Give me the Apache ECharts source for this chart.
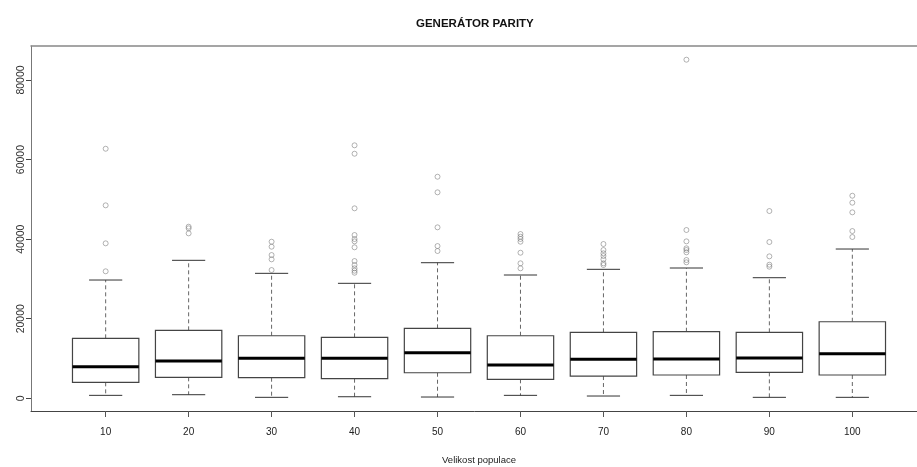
<!DOCTYPE html>
<html>
<head>
<meta charset="utf-8">
<script src="https://cdn.jsdelivr.net/npm/echarts@6/dist/echarts.min.js"></script>
<style>html,body{margin:0;padding:0;background:#fff}#c{width:917px;height:467px}</style>
</head>
<body>
<div id="c"></div>
<script>
// Categories (population size)
var categories = ['10', '20', '30', '40', '50', '60', '70', '80', '90', '100'];
// Box statistics per category
var lowWhisker = [750, 910, 250, 400, 330, 750, 580, 750, 250, 250];
var q1Values   = [4020, 5280, 5180, 4930, 6430, 4780, 5600, 5860, 6530, 5860];
var medians    = [7940, 9380, 10050, 10050, 11460, 8370, 9800, 9880, 10130, 11210];
var q3Values   = [15080, 17090, 15730, 15330, 17590, 15730, 16590, 16740, 16590, 19250];
var highWhisker= [29730, 34680, 31410, 28900, 34080, 30990, 32420, 32750, 30310, 37520];
// Outliers per category
var outliers = [
  [62720, 48500, 38950, 31920],
  [43130, 42720, 41460],
  [39360, 38100, 36010, 34930, 32240],
  [63580, 61470, 47750, 41040, 40030, 39450, 37950, 34500, 33500, 32670, 32070, 31560],
  [55690, 51770, 42970, 38270, 37020],
  [41290, 40610, 40050, 39360, 36590, 33930, 32670],
  [38780, 37270, 36440, 35760, 34930, 33930, 33500],
  [85100, 42300, 39450, 37700, 37270, 36690, 34760, 34180],
  [47070, 39280, 35680, 33580, 33080],
  [50910, 49160, 46740, 42040, 40540]
];
var yTicks = [0, 20000, 40000, 60000, 80000];

var boxData = categories.map(function (c, i) {
  return [i + 1, lowWhisker[i], q1Values[i], medians[i], q3Values[i], highWhisker[i]];
});
var outlierData = [];
outliers.forEach(function (arr, i) {
  arr.forEach(function (v) { outlierData.push([i + 1, v]); });
});
var xPositions = categories.map(function (c, i) { return i + 1; });

var font = "'Liberation Sans', Arial, sans-serif";

var chart = echarts.init(document.getElementById('c'), null, {renderer: 'canvas'});
chart.setOption({
  animation: false,
  backgroundColor: '#ffffff',
  title: {
    text: 'GENERÁTOR PARITY',
    left: 411, top: 13,
    textStyle: {fontFamily: font, fontSize: 11.5, fontWeight: 'bold', color: '#111'}
  },
  grid: {left: 31, top: 46, right: -10, bottom: 56, containLabel: false, outerBoundsMode: 'none'},
  xAxis: [{
    type: 'value', min: 0.1, max: 10.9,
    name: 'Velikost populace', nameLocation: 'middle', nameGap: 44,
    nameTextStyle: {fontFamily: font, fontSize: 9.5, color: '#222'},
    axisLine: {show: true, onZero: false, lineStyle: {color: '#444', width: 1}},
    axisTick: {show: true, length: 6, customValues: xPositions, lineStyle: {color: '#555'}},
    axisLabel: {
      show: true, margin: 16, customValues: xPositions,
      fontFamily: font, fontSize: 10, color: '#222',
      formatter: function (v) { return categories[Math.round(v) - 1]; }
    },
    splitLine: {show: false}
  }, {
    type: 'value', min: 0.1, max: 10.9, position: 'top',
    axisLine: {show: true, onZero: false, lineStyle: {color: '#888', width: 1.5}},
    axisTick: {show: false}, axisLabel: {show: false}, splitLine: {show: false}
  }],
  yAxis: {
    type: 'value', min: -3184, max: 88540,
    axisLine: {show: true, onZero: false, lineStyle: {color: '#777', width: 1}},
    axisTick: {show: true, length: 5, customValues: yTicks, lineStyle: {color: '#444'}},
    axisLabel: {show: true, rotate: 90, margin: 4, customValues: yTicks,
      fontFamily: font, fontSize: 10.5, color: '#333',
      formatter: function (v) { return String(Math.round(v)); }},
    splitLine: {show: false}
  },
  series: [{
    type: 'custom',
    data: boxData,
    encode: {x: 0, y: [1, 2, 3, 4, 5]},
    renderItem: function (params, api) {
      var x = api.value(0);
      var lo = api.coord([x, api.value(1)]);
      var q1 = api.coord([x, api.value(2)]);
      var md = api.coord([x, api.value(3)]);
      var q3 = api.coord([x, api.value(4)]);
      var hi = api.coord([x, api.value(5)]);
      var halfW = api.size([0.8, 0])[0] / 2;
      var capHalf = api.size([0.4, 0])[0] / 2;
      var cx = q1[0];
      return {
        type: 'group',
        children: [
          {type: 'line', shape: {x1: cx, y1: q3[1], x2: cx, y2: hi[1]},
            style: {stroke: '#666', lineWidth: 1, lineDash: [4, 3]}},
          {type: 'line', shape: {x1: cx, y1: q1[1], x2: cx, y2: lo[1]},
            style: {stroke: '#666', lineWidth: 1, lineDash: [4, 3]}},
          {type: 'line', shape: {x1: cx - capHalf, y1: hi[1], x2: cx + capHalf, y2: hi[1]},
            style: {stroke: '#333', lineWidth: 1}},
          {type: 'line', shape: {x1: cx - capHalf, y1: lo[1], x2: cx + capHalf, y2: lo[1]},
            style: {stroke: '#333', lineWidth: 1}},
          {type: 'rect', shape: {x: cx - halfW, y: q3[1], width: 2 * halfW, height: q1[1] - q3[1]},
            style: {fill: '#fff', stroke: '#444', lineWidth: 1.2}},
          {type: 'line', shape: {x1: cx - halfW, y1: md[1], x2: cx + halfW, y2: md[1]},
            style: {stroke: '#000', lineWidth: 3}}
        ]
      };
    }
  }, {
    type: 'scatter',
    data: outlierData,
    symbol: 'circle',
    symbolSize: 5,
    itemStyle: {color: 'rgba(255,255,255,0)', borderColor: '#777', borderWidth: 0.7}
  }]
});
</script>
</body>
</html>
